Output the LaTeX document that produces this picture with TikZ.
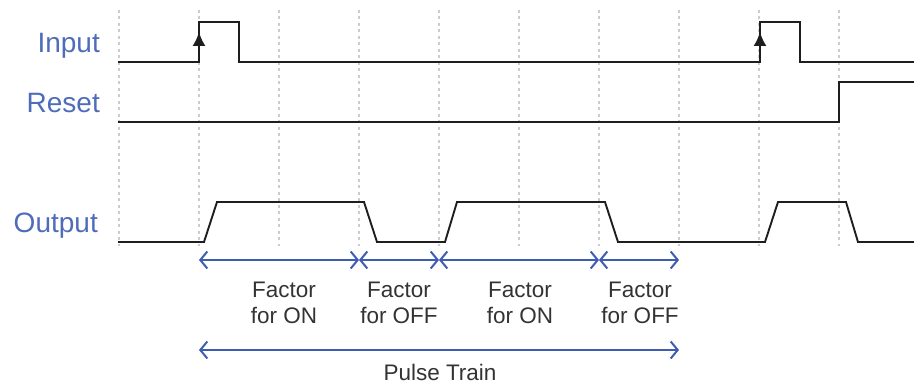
\documentclass[tikz,border=0pt]{standalone}
\usepackage{fontspec}
\setmainfont{Liberation Sans}
\usetikzlibrary{arrows.meta}
\definecolor{lblue}{RGB}{78,108,186}
\definecolor{ablue}{RGB}{62,92,176}
\definecolor{sig}{RGB}{30,30,30}
\begin{document}
\begin{tikzpicture}[x=1pt,y=-1pt,
  grid/.style={draw=black!20,line width=1.4pt,dash pattern=on 3pt off 3.5pt},
  signal/.style={draw=sig,line width=1.9pt,line join=miter},
  sname/.style={text=lblue,font=\fontsize{28}{30}\selectfont,anchor=base east,inner sep=0pt},
  dim/.style={draw=ablue,line width=1.8pt,{Straight Barb[length=7pt,width=17pt,line width=2pt]}-{Straight Barb[length=7pt,width=17pt,line width=2pt]}},
  dimlabel/.style={text=black!80,font=\fontsize{22.5}{26}\selectfont,align=center,inner sep=0pt,anchor=base}
  ]
\useasboundingbox (0,0) rectangle (914,385);
% grid lines
\foreach \gx in {119,199,...,839} \draw[grid] (\gx,10) -- (\gx,246);
% names
\node[sname] (nin) at (100,53) {Input};
\node[sname] (nre) at (100,113) {Reset};
\node[sname] (nout) at (98,233) {Output};
% input signal
\draw[signal] (118,62) -- (199,62) -- (199,22) -- (239,22) -- (239,62) -- (760,62) -- (760,22) -- (800,22) -- (800,62) -- (914,62);
\draw[sig,line width=1.9pt,-{Latex[length=14pt,width=13pt]}] (199,62) -- (199,32);
\draw[sig,line width=1.9pt,-{Latex[length=14pt,width=13pt]}] (760,62) -- (760,32);
% reset signal
\draw[signal] (118,122) -- (839,122) -- (839,82) -- (914,82);
% output signal
\draw[signal] (118,242) -- (204,242) -- (217,202) -- (364,202) -- (377,242) -- (445,242) -- (457,202) -- (605,202) -- (618,242) -- (765,242) -- (778,202) -- (846,202) -- (858,242) -- (914,242);
% dimension arrows
\coordinate (d0) at (199,260);
\coordinate (d1) at (359,260);
\coordinate (d2) at (439,260);
\coordinate (d3) at (599,260);
\coordinate (d4) at (679,260);
\draw[dim] (d0) -- (d1);
\draw[dim] (d1) -- (d2);
\draw[dim] (d2) -- (d3);
\draw[dim] (d3) -- (d4);
\node[dimlabel] (l1) at (284,323) {Factor\\for ON};
\node[dimlabel] (l2) at (399,323) {Factor\\for OFF};
\node[dimlabel] (l3) at (520,323) {Factor\\for ON};
\node[dimlabel] (l4) at (640,323) {Factor\\for OFF};
\coordinate (p0) at (199,350);
\coordinate (p1) at (679,350);
\draw[dim,line width=2.8pt] (p0) -- (p1);
\node[dimlabel] (pt) at (440,380) {Pulse Train};
\end{tikzpicture}
\end{document}
